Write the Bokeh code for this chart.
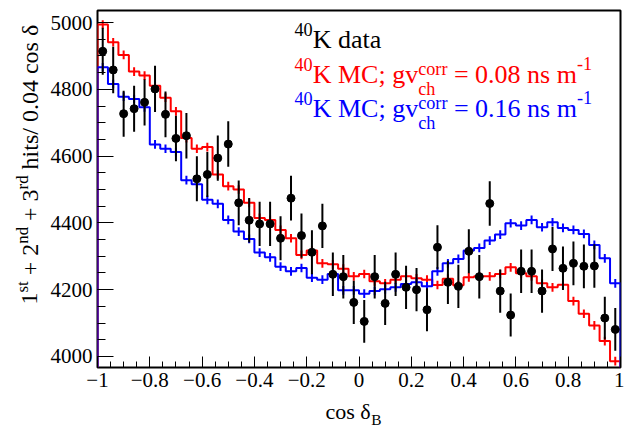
import numpy as np
from bokeh.plotting import figure
from bokeh.layouts import row, column
from bokeh.models import Range1d, FixedTicker, Label, CustomJSTickFormatter
from bokeh.embed import file_html
from bokeh.resources import INLINE

# ---------------- data ----------------
x_min, x_max, n_bins = -1.0, 1.0, 50
y_min, y_max = 3967, 5036

data_counts = [4914, 4858, 4727, 4742, 4761, 4801, 4725, 4653, 4661, 4532,
               4545, 4594, 4636, 4460, 4408, 4397, 4397, 4354, 4474, 4362,
               4312, 4391, 4246, 4239, 4162, 4105, 4239, 4159, 4246, 4207,
               4200, 4140, 4327, 4222, 4210, 4315, 4239, 4458, 4196, 4124,
               4255, 4255, 4196, 4322, 4264, 4279, 4270, 4271, 4115, 4081]

mc_red = [4994, 4941, 4903, 4853, 4841, 4811, 4775, 4734, 4654, 4622,
          4627, 4545, 4510, 4500, 4460, 4415, 4409, 4379, 4354, 4304,
          4317, 4279, 4276, 4263, 4240, 4247, 4225, 4219, 4230, 4240,
          4234, 4230, 4214, 4233, 4213, 4237, 4240, 4240, 4247, 4267,
          4249, 4240, 4219, 4207, 4215, 4166, 4128, 4093, 4046, 3986]

mc_blue = [4866, 4816, 4778, 4771, 4746, 4635, 4622, 4612, 4528, 4516,
           4469, 4457, 4409, 4374, 4352, 4311, 4297, 4269, 4255, 4265,
           4236, 4230, 4247, 4198, 4198, 4188, 4196, 4201, 4207, 4217,
           4222, 4210, 4255, 4279, 4292, 4317, 4325, 4347, 4365, 4399,
           4392, 4409, 4387, 4402, 4385, 4379, 4367, 4334, 4294, 4219]

mc_err = 13  # half length of the small MC error ticks

x_ticks = [-1.0, -0.8, -0.6, -0.4, -0.2, 0.0, 0.2, 0.4, 0.6, 0.8, 1.0]
x_tick_labels = ["\u22121", "\u22120.8", "\u22120.6", "\u22120.4", "\u22120.2",
                 "0", "0.2", "0.4", "0.6", "0.8", "1"]
y_ticks = [4000, 4200, 4400, 4600, 4800, 5000]

# ---------------- derived geometry ----------------
edges = np.linspace(x_min, x_max, n_bins + 1)
centers = 0.5 * (edges[:-1] + edges[1:])
data = np.array(data_counts, dtype=float)
data_err = np.sqrt(data)


def hist_path(vals):
    xs = np.repeat(edges, 2)
    ys = np.concatenate([[y_min], np.repeat(np.array(vals, dtype=float), 2), [y_min]])
    return xs, ys


FONT = "Liberation Serif"

# layout (page pixels)
YLAB_W = 44
MAIN_W, MAIN_H = 580, 396
XLAB_H = 32

p = figure(width=MAIN_W, height=MAIN_H, output_backend="svg", toolbar_location=None,
           x_range=Range1d(x_min, x_max), y_range=Range1d(y_min, y_max),
           min_border_left=53, min_border_right=4, min_border_top=10,
           min_border_bottom=29)
p.background_fill_color = "white"
p.border_fill_color = "white"
p.outline_line_color = "black"
p.outline_line_width = 2
p.xgrid.visible = False
p.ygrid.visible = False

p.xaxis.ticker = FixedTicker(ticks=x_ticks,
                             minor_ticks=list(np.round(np.arange(-1.0, 1.0001, 0.05), 2)))
p.xaxis.formatter = CustomJSTickFormatter(args=dict(labels=x_tick_labels),
                                          code="return labels[index];")
p.yaxis.ticker = FixedTicker(ticks=y_ticks, minor_ticks=list(range(3950, 5051, 50)))
for ax in (p.xaxis[0], p.yaxis[0]):
    ax.axis_line_color = None
    ax.major_tick_out = 0
    ax.minor_tick_out = 0
    ax.major_tick_line_color = "black"
    ax.minor_tick_line_color = "black"
    ax.major_label_text_font = FONT
    ax.major_label_text_font_size = "21px"
    ax.major_label_text_color = "black"
p.xaxis.major_tick_in = 11
p.xaxis.minor_tick_in = 6
p.yaxis.major_tick_in = 16
p.yaxis.minor_tick_in = 8
p.xaxis.major_label_standoff = 5
p.yaxis.major_label_standoff = 5

# histograms
rx, ry = hist_path(mc_red)
p.line(rx, ry, line_color="#ff0000", line_width=2)
p.segment(centers, np.array(mc_red) - mc_err, centers, np.array(mc_red) + mc_err,
          line_color="#ff0000", line_width=2)
bx, by = hist_path(mc_blue)
p.line(bx, by, line_color="#0000ff", line_width=2)
p.segment(centers, np.array(mc_blue) - mc_err, centers, np.array(mc_blue) + mc_err,
          line_color="#0000ff", line_width=2)

# data points
p.segment(centers, data - data_err, centers, data + data_err, line_color="black", line_width=2)
p.scatter(centers, data, size=8, color="black")


def text_panel(w, h):
    f = figure(width=w, height=h, output_backend="svg", toolbar_location=None,
               x_range=Range1d(0, 1), y_range=Range1d(0, 1),
               x_axis_location=None, y_axis_location=None, min_border=0)
    f.grid.visible = False
    f.outline_line_color = None
    f.background_fill_color = "white"
    f.border_fill_color = "white"
    return f


ylab = text_panel(YLAB_W, MAIN_H)
xlab = text_panel(YLAB_W + MAIN_W, XLAB_H)

# ---------------- texts ----------------
ADV = {' ': 250, '+': 564, '=': 564, '.': 250, '/': 278, ';': 278, '-': 333,
       'a': 444, 'c': 444, 'd': 500, 'g': 500, 'h': 500, 'i': 278, 'm': 778,
       'n': 500, 'o': 500, 'r': 333, 's': 389, 't': 278, 'v': 500,
       'B': 667, 'C': 667, 'K': 722, 'M': 889}
BASE_SHIFT = 0.23  # observed drop of the drawn baseline below the anchor (em)


def tw(s, size):
    return sum(ADV.get(c, 500) for c in s) / 1000.0 * size


def put(fig, origin, x, y, text, size, color="black", angle=0.0):
    """x, y are page pixels of the wanted baseline start of the text."""
    stripped = text.lstrip(" ")
    adv = tw(text[:len(text) - len(stripped)], size)
    if angle == 0.0:
        x += adv
        y -= BASE_SHIFT * size
    else:
        y -= adv
        x -= BASE_SHIFT * size
    ox, oy = origin
    fig.add_layout(Label(x=x - ox, y=oy - y, x_units="screen", y_units="screen",
                         text=stripped, text_font=FONT, text_font_size=f"{size:.1f}px",
                         text_color=color, text_baseline="alphabetic",
                         text_align="left", angle=angle, angle_units="rad"))


MAIN_ORIGIN = (97, 367)         # frame bottom-left of main plot in page pixels
YLAB_ORIGIN = (0, MAIN_H)
XLAB_ORIGIN = (0, MAIN_H + XLAB_H)

# legend-like text block
F = 26
S = 0.7 * F
X0 = 294


def mc_row(yb, color, val):
    x = X0
    put(p, MAIN_ORIGIN, x, yb - 12, "40", S, color)
    x += tw("40", S)
    put(p, MAIN_ORIGIN, x, yb, "K MC; gv", F, color)
    x += tw("K MC; gv", F)
    put(p, MAIN_ORIGIN, x, yb - 7, "corr", S, color)
    put(p, MAIN_ORIGIN, x, yb + 13, "ch", S, color)
    x += tw("corr", S)
    s = " = " + val + " ns m"
    put(p, MAIN_ORIGIN, x, yb, s, F, color)
    x += tw(s, F)
    put(p, MAIN_ORIGIN, x, yb - 13, "-1", S, color)


put(p, MAIN_ORIGIN, X0, 45 - 12, "40", S)
put(p, MAIN_ORIGIN, X0 + tw("40", S), 45, "K data", F)
mc_row(80, "#ff0000", "0.08")
mc_row(114, "#0000ff", "0.16")

# x axis title
FX = 22
put(xlab, XLAB_ORIGIN, 325, 416, "cos \u03b4", FX)
put(xlab, XLAB_ORIGIN, 325 + tw("cos \u03b4", FX), 423, "B", 0.7 * FX)

# y axis title (rotated)
FY = 24
SY = 0.7 * FY
ang = np.pi / 2
xb = 35
y = 333
for txt, sup in [("1", False), ("st", True), (" + 2", False), ("nd", True),
                 (" + 3", False), ("rd", True), (" hits/ 0.04 cos \u03b4", False)]:
    if sup:
        put(ylab, YLAB_ORIGIN, xb - 9, y, txt, SY, angle=ang)
        y -= tw(txt, SY)
    else:
        put(ylab, YLAB_ORIGIN, xb, y, txt, FY, angle=ang)
        y -= tw(txt, FY)

layout = column(row(ylab, p, spacing=0), xlab, spacing=0)
open("out.html", "w").write(file_html(layout, INLINE))
